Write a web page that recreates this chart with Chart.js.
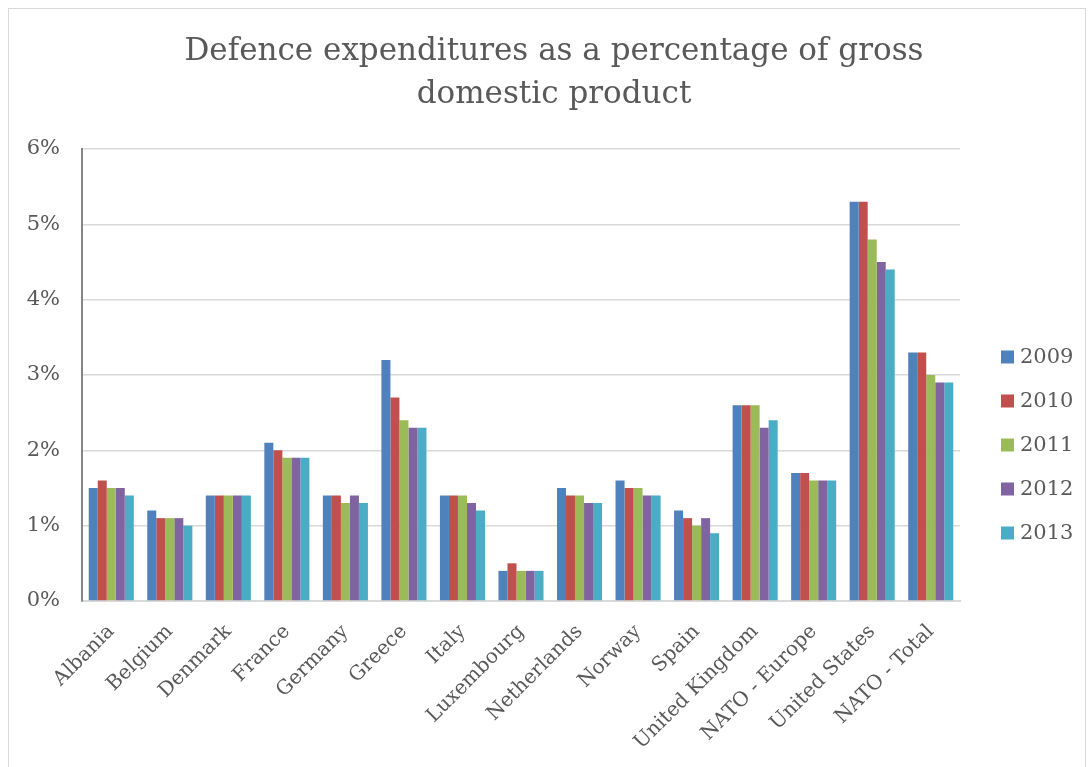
<!DOCTYPE html>
<html>
<head>
<meta charset="utf-8">
<script src="https://cdn.jsdelivr.net/npm/chart.js@4"></script>
<style>
  body { margin: 0; background: #fff; }
  #wrap { position: relative; width: 1089px; height: 767px; }
  #frame { position: absolute; left: 8px; top: 8px; right: 3px; bottom: -2px; border: 1px solid #d9d9d9; pointer-events: none; }
</style>
</head>
<body>
<div id="wrap">
  <canvas id="chart" width="1089" height="767"></canvas>
  <div id="frame"></div>
</div>
<script>
// ===== DATA =====
const countries = ["Albania", "Belgium", "Denmark", "France", "Germany", "Greece", "Italy",
  "Luxembourg", "Netherlands", "Norway", "Spain", "United Kingdom", "NATO - Europe",
  "United States", "NATO - Total"];

const years = ["2009", "2010", "2011", "2012", "2013"];

const y2009 = [1.5, 1.2, 1.4, 2.1, 1.4, 3.2, 1.4, 0.4, 1.5, 1.6, 1.2, 2.6, 1.7, 5.3, 3.3];
const y2010 = [1.6, 1.1, 1.4, 2.0, 1.4, 2.7, 1.4, 0.5, 1.4, 1.5, 1.1, 2.6, 1.7, 5.3, 3.3];
const y2011 = [1.5, 1.1, 1.4, 1.9, 1.3, 2.4, 1.4, 0.4, 1.4, 1.5, 1.0, 2.6, 1.6, 4.8, 3.0];
const y2012 = [1.5, 1.1, 1.4, 1.9, 1.4, 2.3, 1.3, 0.4, 1.3, 1.4, 1.1, 2.3, 1.6, 4.5, 2.9];
const y2013 = [1.4, 1.0, 1.4, 1.9, 1.3, 2.3, 1.2, 0.4, 1.3, 1.4, 0.9, 2.4, 1.6, 4.4, 2.9];

const titleLines = ["Defence expenditures as a percentage of gross", "domestic product"];

const colors = ["#4F81BD", "#C0504D", "#9BBB59", "#8064A2", "#4BACC6"];

const FONT = "'DejaVu Serif', 'Liberation Serif', serif";
const TEXT = "#595959";

// ===== TITLE + LEGEND (drawn on canvas) =====
const extras = {
  id: "extras",
  afterDraw(chart) {
    const c = chart.ctx;
    c.save();
    // title
    c.font = "31px " + FONT;
    c.fillStyle = TEXT;
    c.textAlign = "center";
    c.textBaseline = "middle";
    titleLines.forEach((t, i) => c.fillText(t, 554, 52 + i * 43));
    // legend
    const x = 1001, y0 = 357, step = 44;
    c.font = "21px " + FONT;
    c.textAlign = "left";
    chart.data.datasets.forEach((ds, i) => {
      const y = y0 + i * step;
      c.fillStyle = ds.backgroundColor;
      c.fillRect(x, y - 6.5, 13, 13);
      c.fillStyle = TEXT;
      c.fillText(ds.label, x + 19, y + 1);
    });
    c.restore();
  }
};

const ctx = document.getElementById("chart").getContext("2d");

const chart = new Chart(ctx, {
  type: "bar",
  data: {
    labels: countries,
    datasets: [y2009, y2010, y2011, y2012, y2013].map((vals, i) => ({
      label: years[i],
      data: vals,
      backgroundColor: colors[i],
      borderWidth: 0,
      categoryPercentage: 0.77,
      barPercentage: 1.0
    }))
  },
  options: {
    responsive: false,
    animation: false,
    layout: { padding: { left: 27, right: 129, top: 149, bottom: 0 } },
    plugins: {
      legend: { display: false },
      tooltip: { enabled: false },
      title: { display: false }
    },
    scales: {
      x: {
        grid: { display: false },
        border: { color: "#d9d9d9", width: 2 },
        afterFit: s => { s.height = 166; },
        ticks: {
          color: TEXT,
          font: { family: FONT, size: 20 },
          minRotation: 45,
          maxRotation: 45,
          padding: 11
        }
      },
      y: {
        min: 0,
        max: 6,
        grid: { color: "#d9d9d9", lineWidth: 1.5, drawTicks: false },
        border: { color: "#868686", width: 2 },
        afterFit: s => { s.width = 55; },
        ticks: {
          stepSize: 1,
          color: TEXT,
          font: { family: FONT, size: 21 },
          padding: 22,
          callback: v => v + "%"
        }
      }
    }
  },
  plugins: [extras]
});
</script>
</body>
</html>
